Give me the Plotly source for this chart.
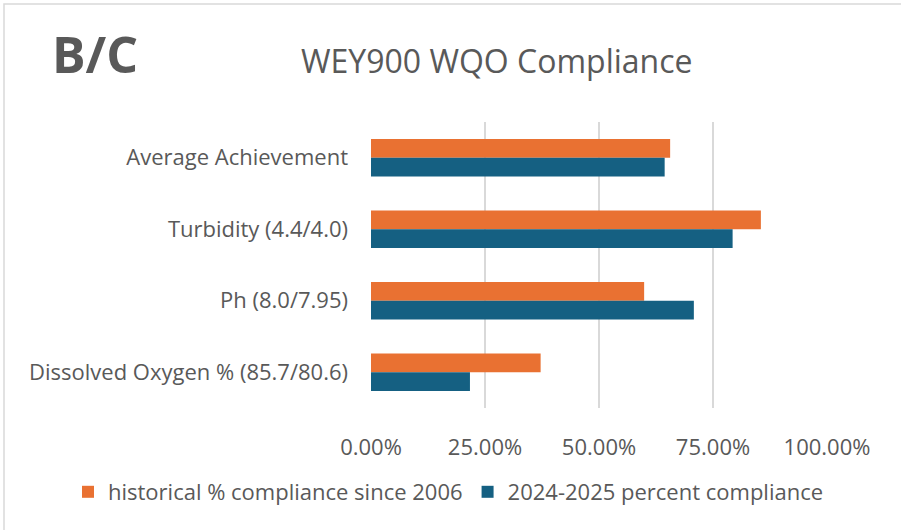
import plotly.graph_objects as go

categories = ["Average Achievement", "Turbidity (4.4/4.0)", "Ph (8.0/7.95)",
              "Dissolved Oxygen % (85.7/80.6)"]
historical = [0.656, 0.855, 0.599, 0.372]
current = [0.644, 0.793, 0.708, 0.217]
series_names = ["historical % compliance since 2006", "2024-2025 percent compliance"]
tick_vals = [0, 0.25, 0.5, 0.75, 1.0]

TEXT = "#595959"
FONT = "Open Sans"

W, H = 901, 530
ML, MR, MT, MB = 371, 74, 122, 122

fig = go.Figure()
fig.add_trace(go.Bar(y=categories, x=historical, orientation="h", name=series_names[0],
                     marker=dict(color="#E97132", line=dict(width=0))))
fig.add_trace(go.Bar(y=categories, x=current, orientation="h", name=series_names[1],
                     marker=dict(color="#156082", line=dict(width=0))))

pw = W - ML - MR
ph = H - MT - MB

fig.update_layout(
    width=W, height=H,
    margin=dict(l=ML, r=MR, t=MT, b=MB),
    paper_bgcolor="white", plot_bgcolor="white",
    barmode="group", bargap=0.477, bargroupgap=0,
    font=dict(family=FONT, color=TEXT, size=22),
    showlegend=True,
    legend=dict(orientation="h", x=(68 - ML) / pw, xref="paper", xanchor="left",
                y=-(492 - (H - MB)) / ph, yref="paper", yanchor="middle",
                font=dict(size=22, color=TEXT), traceorder="normal",
                itemwidth=30, tracegroupgap=0, bgcolor="rgba(0,0,0,0)"),
    xaxis=dict(range=[0, 1], tickvals=tick_vals, tickformat=".2%",
               showgrid=True, gridcolor="#D9D9D9", gridwidth=1.5,
               zeroline=False, showline=False, ticks="",
               tickfont=dict(size=22, color=TEXT), ticklabelstandoff=24),
    yaxis=dict(autorange="reversed", showgrid=False, ticks="", showline=False,
               tickfont=dict(size=22, color=TEXT), ticklabelstandoff=22),
    annotations=[
        dict(text="WEY900 WQO Compliance", xref="paper", yref="paper",
             x=(497 - ML) / pw, y=1 + (MT - 60) / ph, xanchor="center", yanchor="middle",
             showarrow=False, font=dict(size=32, color=TEXT, family=FONT)),
        dict(text="<b>B/C</b>", xref="paper", yref="paper",
             x=(50 - ML) / pw, y=1 + (MT - 54) / ph, xanchor="left", yanchor="middle",
             showarrow=False, font=dict(size=50, color=TEXT, family=FONT)),
    ],
    shapes=[
        dict(type="rect", xref="paper", yref="paper",
             x0=(4 - ML) / pw, x1=(W + 10 - ML) / pw,
             y0=-(MB + 10) / ph, y1=1 + (MT - 4) / ph,
             line=dict(color="#D9D9D9", width=1.5), fillcolor="rgba(0,0,0,0)",
             layer="below"),
    ],
)

fig.write_html("out.html", config={"displayModeBar": False},
               post_script="document.body.style.margin='0';")
